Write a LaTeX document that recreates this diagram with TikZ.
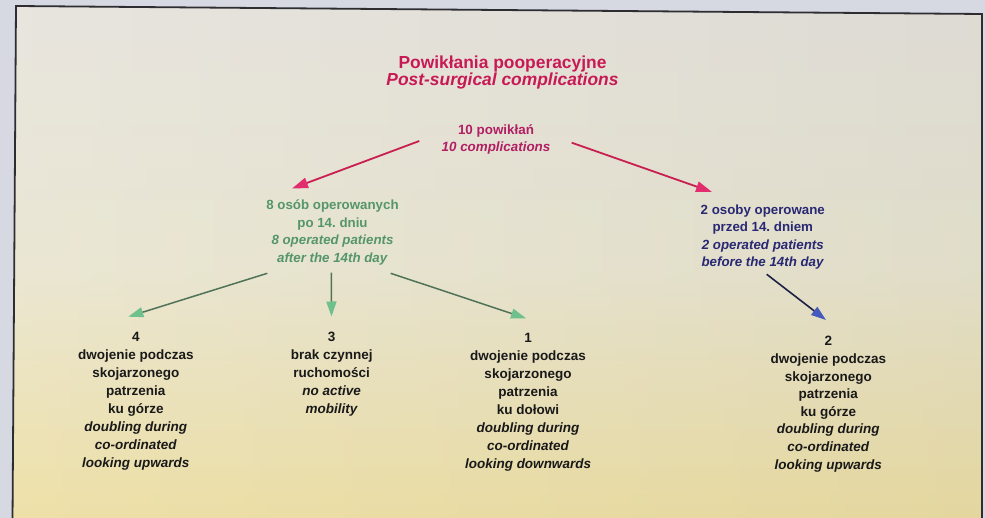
\documentclass[tikz,border=0pt]{standalone}
\usepackage{fontspec}
\setmainfont{Liberation Sans}
\usetikzlibrary{arrows.meta}
\frenchspacing
\definecolor{outerbg}{RGB}{214,216,226}
\definecolor{bgtop}{RGB}{230,227,220}
\definecolor{bgmid}{RGB}{233,229,208}
\definecolor{bgbot}{RGB}{237,222,160}
\definecolor{framec}{RGB}{45,45,50}
\definecolor{titlec}{RGB}{200,25,85}
\definecolor{topc}{RGB}{178,30,100}
\definecolor{greenc}{RGB}{85,150,105}
\definecolor{bluec}{RGB}{40,40,115}
\definecolor{blackc}{RGB}{25,25,25}
\definecolor{redshaft}{RGB}{200,30,80}
\definecolor{redhead}{RGB}{225,45,110}
\definecolor{greenshaft}{RGB}{80,115,88}
\definecolor{greenhead}{RGB}{110,192,140}
\definecolor{blueshaft}{RGB}{30,32,70}
\definecolor{bluehead}{RGB}{70,90,190}
\newcommand{\mystr}{\rule{0pt}{13pt}}
\newcommand{\tstr}{\rule{0pt}{15pt}}
\begin{document}
\begin{tikzpicture}[x=1pt,y=-1pt,
  lbl/.style={anchor=north, inner sep=0pt, align=center},
  titlefont/.style={font=\fontsize{17.4}{16.7}\selectfont\bfseries, text=titlec},
  topfont/.style={font=\fontsize{13.4}{16.7}\selectfont\bfseries, text=topc},
  greenfont/.style={font=\fontsize{13.3}{17.9}\selectfont\bfseries, text=greenc},
  bluefont/.style={font=\fontsize{13.3}{17.6}\selectfont\bfseries, text=bluec},
  leaffont/.style={font=\fontsize{13.5}{18}\selectfont\bfseries, text=blackc},
  leaffontb/.style={font=\fontsize{13.5}{17.6}\selectfont\bfseries, text=blackc},
  redarr/.style={draw=redshaft, line width=1.8pt, -{Triangle[length=16pt,width=10.5pt,color=redhead,fill=redhead]}},
  greenarr/.style={draw=greenshaft, line width=1.5pt, -{Triangle[length=15pt,width=10pt,color=greenhead,fill=greenhead]}},
  bluearr/.style={draw=blueshaft, line width=1.6pt, -{Triangle[length=15pt,width=10pt,color=bluehead,fill=bluehead]}}
]
\useasboundingbox (0,0) rectangle (985,518);
\clip (0,0) rectangle (985,518);
% background
\fill[outerbg] (0,0) rectangle (985,518);
\shade[top color=bgtop, bottom color=bgbot, middle color=bgmid]
  (16,6) -- (982,14) -- (982,522) -- (12.5,522) -- cycle;
\shade[left color=white, right color=black!50, opacity=0.08]
  (16,6) -- (982,14) -- (982,522) -- (12.5,522) -- cycle;
\draw[framec, line width=1.8pt] (12.5,522) -- (16,6) -- (982,14) -- (982,522);

% nodes
\node[lbl, titlefont] (title) at (502.5,53.3)
  {\tstr Powikłania pooperacyjne\\\textit{Post-surgical complications}};
\node[lbl, topfont] (top) at (496,121.3)
  {\mystr 10 powikłań\\\textit{10 complications}};
\node[lbl, greenfont] (after) at (332.5,196)
  {\mystr 8 osób operowanych\\po 14. dniu\\\textit{8 operated patients}\\\textit{after the 14th day}};
\node[lbl, bluefont] (before) at (762.8,201)
  {\mystr 2 osoby operowane\\przed 14. dniem\\\textit{2 operated patients}\\\textit{before the 14th day}};
\node[lbl, leaffont] (up) at (135.8,328.7)
  {\mystr 4\\dwojenie podczas\\skojarzonego\\patrzenia\\ku górze\\\textit{doubling during}\\\textit{co-ordinated}\\\textit{looking upwards}};
\node[lbl, leaffont] (noact) at (331.7,328.7)
  {\mystr 3\\brak czynnej\\ruchomości\\\textit{no active}\\\textit{mobility}};
\node[lbl, leaffont] (down) at (528,329.3)
  {\mystr 1\\dwojenie podczas\\skojarzonego\\patrzenia\\ku dołowi\\\textit{doubling during}\\\textit{co-ordinated}\\\textit{looking downwards}};
\node[lbl, leaffontb] (upb) at (828.3,332.7)
  {\mystr 2\\dwojenie podczas\\skojarzonego\\patrzenia\\ku górze\\\textit{doubling during}\\\textit{co-ordinated}\\\textit{looking upwards}};

% connector end points
\coordinate (topL) at (419.3,141);
\coordinate (topR) at (571.7,142.7);
\coordinate (afterIn) at (292,188.5);
\coordinate (beforeIn) at (712,192);
\coordinate (afterL) at (267.3,273.3);
\coordinate (afterM) at (331.3,272.7);
\coordinate (afterR) at (390.7,273.3);
\coordinate (upIn) at (128.3,316.7);
\coordinate (noactIn) at (331.5,316.5);
\coordinate (downIn) at (526,318.3);
\coordinate (beforeOut) at (766.7,274.3);
\coordinate (upbIn) at (826,320);

\draw[redarr] (topL) -- (afterIn);
\draw[redarr] (topR) -- (beforeIn);
\draw[greenarr] (afterL) -- (upIn);
\draw[greenarr] (afterM) -- (noactIn);
\draw[greenarr] (afterR) -- (downIn);
\draw[bluearr] (beforeOut) -- (upbIn);
\end{tikzpicture}
\end{document}
